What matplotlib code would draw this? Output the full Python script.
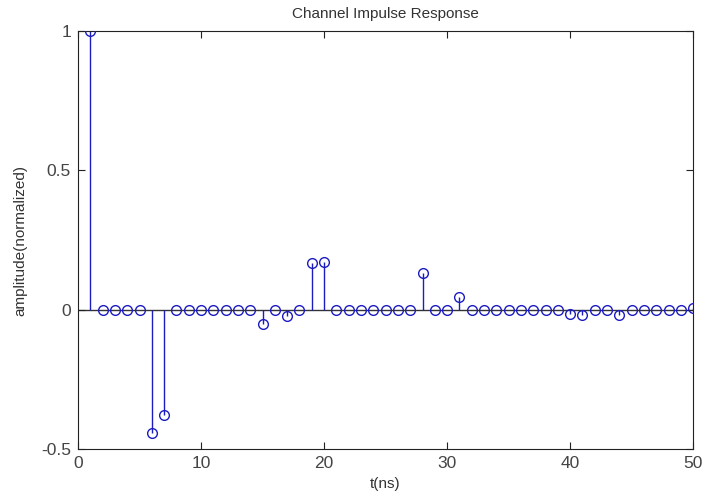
import numpy as np
import matplotlib
matplotlib.use("Agg")
import matplotlib.pyplot as plt

# channel taps, 1 ns spacing
t_ns = np.arange(1, 51)
amp = np.zeros(50)
taps = {1: 1.0, 6: -0.442, 7: -0.378, 15: -0.051, 17: -0.021,
        19: 0.169, 20: 0.171, 28: 0.131, 31: 0.045,
        40: -0.015, 41: -0.019, 44: -0.02, 50: 0.006}
for k, v in taps.items():
    amp[k - 1] = v

plt.rcParams['font.family'] = ['Liberation Sans', 'DejaVu Sans']

fig = plt.figure(figsize=(7.03, 4.99), dpi=100)
ax = fig.add_axes([0.111, 0.1, 0.875, 0.838])

stem_col = '#1c1cc0'
ax.axhline(0, color='#333333', lw=1.0, zorder=1)
ax.vlines(t_ns, 0, amp, color=stem_col, lw=1.0, zorder=2)
ax.plot(t_ns, amp, 'o', mfc='none', mec=stem_col, ms=7, mew=1.0, zorder=3)

ax.set_xlim(0, 50)
ax.set_ylim(-0.5, 1)
ax.set_xticks([0, 10, 20, 30, 40, 50])
ax.set_yticks([-0.5, 0, 0.5, 1])
ax.set_yticklabels(['-0.5', '0', '0.5', '1'])
ax.tick_params(direction='in', top=True, right=True, labelsize=12.5, length=5,
               color='#222222', labelcolor='#444444', pad=5)
for s in ax.spines.values():
    s.set_color('#222222')

ax.set_title('Channel Impulse Response', fontsize=11, pad=9, color='#333333')
ax.set_xlabel('t(ns)', fontsize=11, labelpad=4, color='#333333')
ax.set_ylabel('amplitude(normalized)', fontsize=11, labelpad=10, color='#333333')

fig.savefig('out.png', dpi=100)
